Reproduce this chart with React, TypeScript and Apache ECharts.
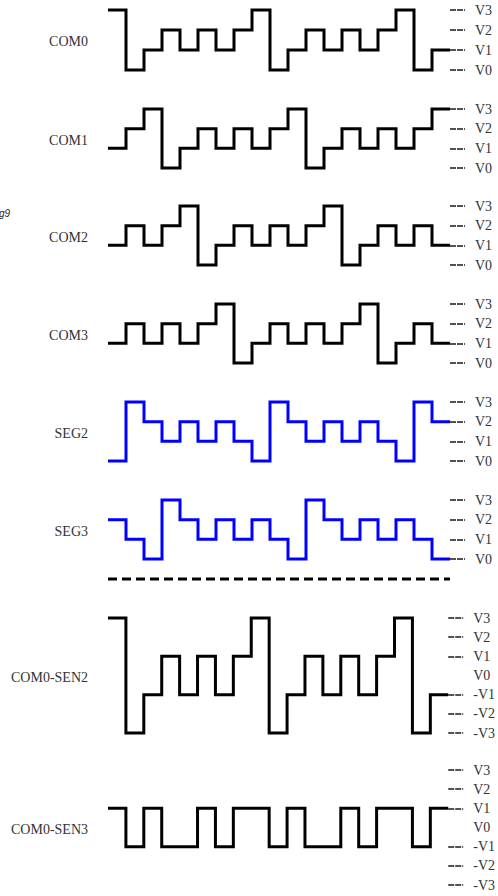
import React, { useEffect, useRef } from 'react';
import * as echarts from 'echarts';

// Level values per time slot (V0=0 ... V3=3; bipolar panels use -3..3)
const com0 = [3, 0, 1, 2, 1, 2, 1, 2, 3, 0, 1, 2, 1, 2, 1, 2, 3, 0, 1];
const com1 = [1, 2, 3, 0, 1, 2, 1, 2, 1, 2, 3, 0, 1, 2, 1, 2, 1, 2, 3];
const com2 = [1, 2, 1, 2, 3, 0, 1, 2, 1, 2, 1, 2, 3, 0, 1, 2, 1, 2, 1];
const com3 = [1, 2, 1, 2, 1, 2, 3, 0, 1, 2, 1, 2, 1, 2, 3, 0, 1, 2, 1];
const seg2 = [0, 3, 2, 1, 2, 1, 2, 1, 0, 3, 2, 1, 2, 1, 2, 1, 0, 3, 2];
const seg3 = [2, 1, 0, 3, 2, 1, 2, 1, 2, 1, 0, 3, 2, 1, 2, 1, 2, 1, 0];
const com0Seg2 = [3, -3, -1, 1, -1, 1, -1, 1, 3, -3, -1, 1, -1, 1, -1, 1, 3, -3, -1];
const com0Seg3 = [1, -1, 1, -1, -1, 1, -1, 1, 1, -1, 1, -1, -1, 1, -1, 1, 1, -1, 1];

const panelNames = ['COM0', 'COM1', 'COM2', 'COM3', 'SEG2', 'SEG3', 'COM0-SEN2', 'COM0-SEN3'];
const unipolarTicks = ['V0', 'V1', 'V2', 'V3'];
const bipolarTicks = ['-V3', '-V2', '-V1', 'V0', 'V1', 'V2', 'V3'];
const bipolarTickMarks = [-3, -2, -1, 1, 2, 3];
const bipolarLabelValues = [-3, -2, -1, 0, 1, 2, 3];

const seriesValues = [com0, com1, com2, com3, seg2, seg3, com0Seg2, com0Seg3];
const seriesColors = ['#000000', '#000000', '#000000', '#000000', '#0000ff', '#0000ff', '#000000', '#000000'];
const bipolar = [false, false, false, false, false, false, true, true];

// layout (pixels)
const panelTops = [10, 109, 206, 304, 402, 500, 618, 770];
const panelHeights = [60, 59, 59, 59, 59, 59, 115, 115];
const PLOT_LEFT = 108;
const PLOT_WIDTH = 342;

function toSteps(values: number[]) {
  const pts = values.map((v, i) => [i, v]);
  pts.push([values.length, values[values.length - 1]]);
  return pts;
}

export default function App() {
  const ref = useRef<HTMLDivElement>(null);
  useEffect(() => {
    if (!ref.current) return;
    const chart = echarts.init(ref.current, undefined, { renderer: 'svg' });
    const n = panelNames.length;
    const idx = Array.from({ length: n }, (_, i) => i);
    const option: any = {
      animation: false,
      backgroundColor: '#ffffff',
      textStyle: { fontFamily: '"Liberation Serif", serif' },
      grid: idx.map((i) => ({
        left: PLOT_LEFT,
        width: PLOT_WIDTH,
        top: panelTops[i],
        height: panelHeights[i],
      })),
      xAxis: idx.map((i) => ({
        type: 'value',
        gridIndex: i,
        min: 0,
        max: seriesValues[i].length,
        show: false,
      })),
      yAxis: idx.map((i) => ({
        type: 'value',
        gridIndex: i,
        position: 'right',
        min: bipolar[i] ? -3 : 0,
        max: 3,
        interval: 1,
        splitLine: { show: false },
        axisLine: { show: false, onZero: false },
        axisTick: {
          show: true,
          inside: false,
          length: 15,
          lineStyle: { color: '#1a1a1a', width: 1.6, type: [6, 1] },
          ...(bipolar[i] ? { customValues: bipolarTickMarks } : {}),
        },
        axisLabel: {
          margin: 25,
          color: '#333',
          fontFamily: '"Liberation Serif", serif',
          fontSize: 14,
          ...(bipolar[i] ? { customValues: bipolarLabelValues } : {}),
          formatter: (v: number) =>
            bipolar[i] ? bipolarTicks[Math.round(v) + 3] : unipolarTicks[Math.round(v)],
        },
      })),
      series: idx.map((i) => ({
        type: 'line',
        xAxisIndex: i,
        yAxisIndex: i,
        data: toSteps(seriesValues[i]),
        step: 'end',
        symbol: 'none',
        clip: false,
        silent: true,
        lineStyle: { color: seriesColors[i], width: 3, cap: 'butt', join: 'miter' },
      })),
      graphic: [
        ...idx.map((i) => ({
          type: 'text',
          x: 88,
          y: panelTops[i] + panelHeights[i] / 2 + 1.5,
          style: {
            text: panelNames[i],
            fill: '#333',
            fontSize: 14,
            fontFamily: '"Liberation Serif", serif',
            align: 'right',
            verticalAlign: 'middle',
          },
        })),
        {
          type: 'line',
          shape: {
            x1: PLOT_LEFT,
            y1: panelTops[5] + panelHeights[5] + 20,
            x2: PLOT_LEFT + PLOT_WIDTH,
            y2: panelTops[5] + panelHeights[5] + 20,
          },
          style: { stroke: '#000', lineWidth: 3, lineDash: [9, 5] },
        },
        {
          type: 'text',
          x: -1,
          y: 213,
          style: {
            text: 'g9',
            fill: '#222',
            fontSize: 10,
            fontStyle: 'italic',
            fontFamily: '"Liberation Sans", sans-serif',
            verticalAlign: 'middle',
          },
        },
      ],
    };
    chart.setOption(option);
    return () => chart.dispose();
  }, []);
  return (
    <div
      ref={ref}
      style={{ position: 'absolute', left: 0, top: 0, width: 498, height: 896, background: '#fff' }}
    />
  );
}
